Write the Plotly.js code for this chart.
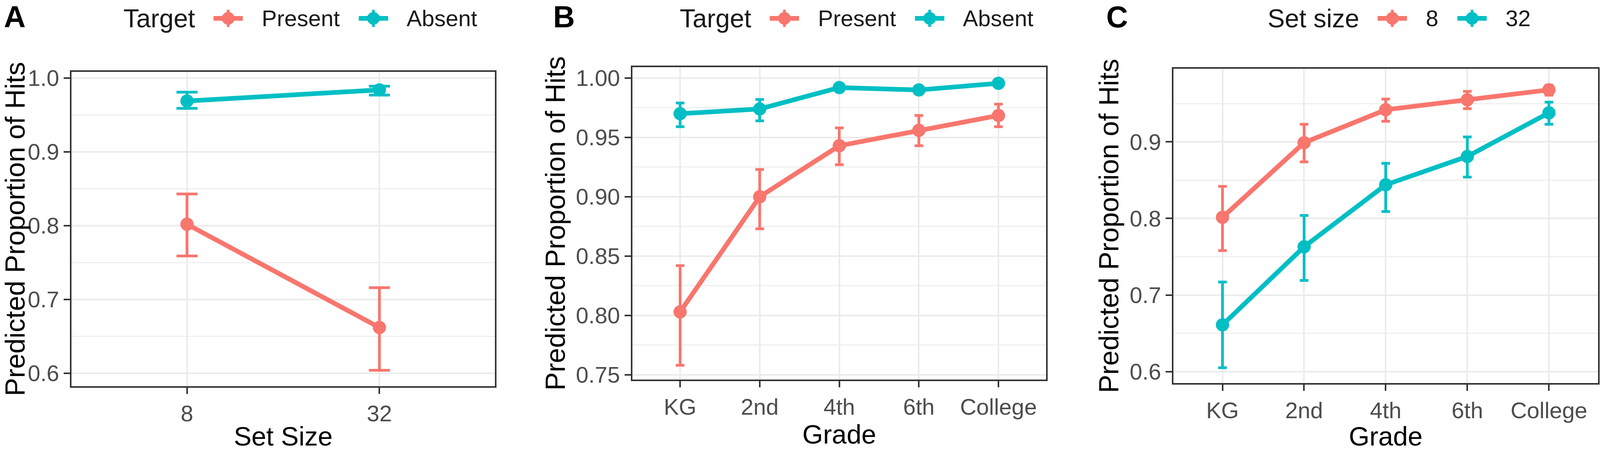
<!DOCTYPE html>
<html>
<head>
<meta charset="utf-8">
<script src="https://cdn.plot.ly/plotly-3.0.1.min.js"></script>
<style>html,body{margin:0;padding:0;background:#fff;overflow:hidden;}#chart{width:100vw;height:100vh;}</style>
</head>
<body>
<div id="chart"></div>
<script>
// ---------- Data ----------
const setSizes = ["8", "32"];
const aPresent   = [0.802, 0.662];
const aPresentHi = [0.843, 0.716];
const aPresentLo = [0.759, 0.604];
const aAbsent    = [0.969, 0.984];
const aAbsentHi  = [0.981, 0.989];
const aAbsentLo  = [0.959, 0.977];

const grades = ["KG", "2nd", "4th", "6th", "College"];
const bPresent   = [0.803, 0.900, 0.943, 0.956, 0.9685];
const bPresentHi = [0.842, 0.923, 0.958, 0.9685, 0.978];
const bPresentLo = [0.758, 0.873, 0.927, 0.943, 0.959];
const bAbsent    = [0.970, 0.974, 0.992, 0.990, 0.9956];
const bAbsentHi  = [0.979, 0.982, 0.994, 0.992, 0.997];
const bAbsentLo  = [0.959, 0.964, 0.990, 0.988, 0.994];

const cSet8    = [0.8015, 0.899, 0.942, 0.955, 0.968];
const cSet8Hi  = [0.842, 0.923, 0.956, 0.966, 0.974];
const cSet8Lo  = [0.758, 0.874, 0.927, 0.9435, 0.961];
const cSet32   = [0.661, 0.763, 0.844, 0.881, 0.938];
const cSet32Hi = [0.717, 0.804, 0.872, 0.9065, 0.952];
const cSet32Lo = [0.605, 0.719, 0.809, 0.854, 0.923];

const panelLabels = ["A", "B", "C"];
const legendTitles = ["Target", "Target", "Set size"];
const seriesNames = [["Present", "Absent"], ["Present", "Absent"], ["8", "32"]];
const xTitles = ["Set Size", "Grade", "Grade"];
const yTitle = "Predicted Proportion of Hits";

// ---------- Styles ----------
const COLORS = ["#F8766D", "#00BFC4"];
const FONT = "Liberation Sans, Arial, sans-serif";
const REFW = 4562, REFH = 1155;
const W = window.innerWidth || REFW, H = window.innerHeight || REFH;
const fx = px => px / REFW;            // reference px -> paper fraction (x)
const fy = px => 1 - px / REFH;        // reference px from top -> paper fraction (y)

function trace(x, y, hi, lo, name, color, xa, ya, capw) {
  return {
    type: "scatter", mode: "lines+markers",
    x: x, y: y, name: name, xaxis: xa, yaxis: ya, showlegend: false,
    line: {color: color, width: 12},
    marker: {color: color, size: 34},
    error_y: {
      type: "data", symmetric: false,
      array: hi.map((v, i) => v - y[i]),
      arrayminus: lo.map((v, i) => y[i] - v),
      color: color, thickness: 7, width: capw
    },
    hoverinfo: "skip"
  };
}

const data = [
  trace(setSizes, aPresent, aPresentHi, aPresentLo, seriesNames[0][0], COLORS[0], "x", "y", 27),
  trace(setSizes, aAbsent, aAbsentHi, aAbsentLo, seriesNames[0][1], COLORS[1], "x", "y", 27),
  trace(grades, bPresent, bPresentHi, bPresentLo, seriesNames[1][0], COLORS[0], "x2", "y2", 11),
  trace(grades, bAbsent, bAbsentHi, bAbsentLo, seriesNames[1][1], COLORS[1], "x2", "y2", 11),
  trace(grades, cSet8, cSet8Hi, cSet8Lo, seriesNames[2][0], COLORS[0], "x3", "y3", 11),
  trace(grades, cSet32, cSet32Hi, cSet32Lo, seriesNames[2][1], COLORS[1], "x3", "y3", 11)
];

function xaxis(domain, range, title, anchor) {
  return {
    domain: domain, anchor: anchor, type: "category", range: range,
    showgrid: true, gridcolor: "#EBEBEB", gridwidth: 4,
    showline: true, linecolor: "#333333", linewidth: 4, mirror: true,
    ticks: "outside", ticklen: 16, tickwidth: 4, tickcolor: "#333333",
    tickfont: {family: FONT, size: 58, color: "#4D4D4D"},
    title: {text: title, font: {family: FONT, size: 68, color: "#000"}, standoff: 12},
    zeroline: false, automargin: false, fixedrange: true
  };
}
function yaxis(domain, range, dtick, fmt, anchor) {
  return {
    domain: domain, anchor: anchor, range: range, dtick: dtick, tick0: 0, tickformat: fmt,
    showgrid: true, gridcolor: "#EBEBEB", gridwidth: 4,
    minor: {dtick: dtick / 2, tick0: 0, showgrid: true, gridcolor: "#EFEFEF", gridwidth: 3, ticks: ""},
    showline: true, linecolor: "#333333", linewidth: 4, mirror: true,
    ticks: "outside", ticklen: 16, tickwidth: 4, tickcolor: "#333333",
    tickfont: {family: FONT, size: 58, color: "#4D4D4D"},
    title: {text: yTitle, font: {family: FONT, size: 70, color: "#000"}, standoff: 6},
    zeroline: false, automargin: false, fixedrange: true
  };
}

// ---------- Legends (ggplot-style, top of each panel) ----------
const canvas = document.createElement("canvas");
const ctx = canvas.getContext("2d");
function textW(t, size) { ctx.font = size + "px 'Liberation Sans', Arial, sans-serif"; return ctx.measureText(t).width; }

const annotations = [];
const shapes = [];
const LEG_Y = fy(47);
const legendStarts = [351, 1937, 3613];
const TITLE_SZ = 66, ITEM_SZ = 58, KEY_W = 75;
legendStarts.forEach((sx, p) => {
  const anchorX = fx(sx);
  annotations.push({
    text: legendTitles[p], x: anchorX, y: LEG_Y, xref: "paper", yref: "paper",
    xanchor: "left", yanchor: "middle", showarrow: false, borderpad: 0,
    font: {family: FONT, size: TITLE_SZ, color: "#1a1a1a"}
  });
  let off = textW(legendTitles[p], TITLE_SZ) + 48;
  seriesNames[p].forEach((nm, k) => {
    const col = COLORS[k];
    shapes.push({
      type: "line", xref: "paper", yref: "paper", xsizemode: "pixel", ysizemode: "pixel",
      xanchor: anchorX, yanchor: LEG_Y, x0: off, x1: off + KEY_W, y0: 0, y1: 0,
      line: {color: col, width: 12}
    });
    shapes.push({
      type: "line", xref: "paper", yref: "paper", xsizemode: "pixel", ysizemode: "pixel",
      xanchor: anchorX, yanchor: LEG_Y, x0: off + KEY_W / 2, x1: off + KEY_W / 2, y0: -22, y1: 22,
      line: {color: col, width: 7}
    });
    shapes.push({
      type: "circle", xref: "paper", yref: "paper", xsizemode: "pixel", ysizemode: "pixel",
      xanchor: anchorX, yanchor: LEG_Y, x0: off + KEY_W / 2 - 16, x1: off + KEY_W / 2 + 16, y0: -16, y1: 16,
      fillcolor: col, line: {color: col, width: 1}
    });
    off += KEY_W + 47;
    annotations.push({
      text: nm, x: anchorX, xshift: off, y: LEG_Y, xref: "paper", yref: "paper",
      xanchor: "left", yanchor: "middle", showarrow: false, borderpad: 0,
      font: {family: FONT, size: ITEM_SZ, color: "#1a1a1a"}
    });
    off += textW(nm, ITEM_SZ) + 50;
  });
});

// panel letters
[[10, 0], [1576, 1], [3153, 2]].forEach(([px, i]) => {
  annotations.push({
    text: panelLabels[i], x: fx(px), y: fy(43), xref: "paper", yref: "paper",
    xanchor: "left", yanchor: "middle", showarrow: false, borderpad: 0,
    font: {family: FONT, size: 77, color: "#000", weight: "bold"}
  });
});

const layout = {
  width: W, height: H,
  margin: {l: 0, r: 0, t: 0, b: 0},
  paper_bgcolor: "#fff", plot_bgcolor: "#fff",
  font: {family: FONT},
  showlegend: false,
  xaxis:  xaxis([fx(204), fx(1411)], [-0.6, 1.6], xTitles[0], "y"),
  yaxis:  yaxis([fy(989), fy(184)], [0.5825, 1.0085], 0.1, ".1f", "x"),
  xaxis2: xaxis([fx(1803), fx(2983)], [-0.6, 4.6], xTitles[1], "y2"),
  yaxis2: yaxis([fy(972), fy(172)], [0.746, 1.0092], 0.05, ".2f", "x2"),
  xaxis3: xaxis([fx(3346), fx(4556)], [-0.6, 4.6], xTitles[2], "y3"),
  yaxis3: yaxis([fy(981), fy(176)], [0.585, 0.9956], 0.1, ".1f", "x3"),
  annotations: annotations,
  shapes: shapes
};

Plotly.newPlot("chart", data, layout, {staticPlot: true, displayModeBar: false});
</script>
</body>
</html>
